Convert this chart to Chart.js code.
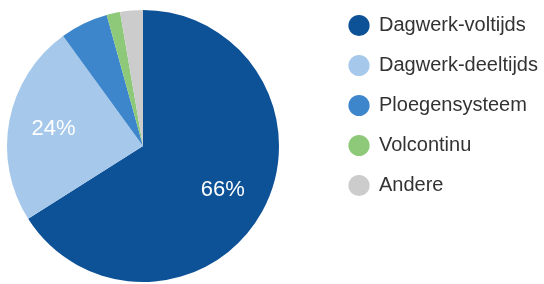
<!DOCTYPE html>
<html>
<head>
<meta charset="utf-8">
<script src="https://cdn.jsdelivr.net/npm/chart.js@4"></script>
<style>
  html, body { margin: 0; padding: 0; background: #fff; }
  #wrap { width: 544px; height: 284px; position: relative; }
</style>
</head>
<body>
<div id="wrap"><canvas id="pie"></canvas></div>
<script>
const categories = ["Dagwerk-voltijds", "Dagwerk-deeltijds", "Ploegensysteem", "Volcontinu", "Andere"];
const shares = [66, 24, 5.7, 1.6, 2.7];
const shownLabels = ["66%", "24%", "", "", ""];
const colors = ["#0d5196", "#a6c8ea", "#3d86cc", "#8ec97a", "#cccccc"];

// put the pie and legend where the reference has them
const placeBoxes = {
    id: "placeBoxes",
    afterLayout(chart) {
        chart.chartArea = { left: 7, top: 10, right: 279, bottom: 282, width: 272, height: 272 };
        const lg = chart.legend;
        lg.left = 329;
        lg.top = -4.5;
    }
};

// percent labels inside the big slices
const sliceLabels = {
    id: "sliceLabels",
    afterDatasetsDraw(chart) {
        const ctx = chart.ctx;
        const arcs = chart.getDatasetMeta(0).data;
        ctx.save();
        ctx.fillStyle = "#ffffff";
        ctx.font = "22px 'Liberation Sans', Arial, sans-serif";
        ctx.textAlign = "center";
        ctx.textBaseline = "middle";
        arcs.forEach((arc, i) => {
            if (!shownLabels[i]) return;
            const mid = (arc.startAngle + arc.endAngle) / 2;
            const r = arc.outerRadius * 0.67;
            ctx.fillText(shownLabels[i], arc.x + Math.cos(mid) * r, arc.y + Math.sin(mid) * r);
        });
        ctx.restore();
    }
};

const data = {
    labels: categories,
    datasets: [
        {
            data: shares,
            backgroundColor: colors,
            borderWidth: 0
        }
    ]
};

const config = {
    type: "pie",
    data: data,
    options: {
        responsive: true,
        maintainAspectRatio: false,
        animation: false,
        plugins: {
            tooltip: { enabled: false },
            legend: {
                position: "right",
                align: "start",
                labels: {
                    usePointStyle: true,
                    pointStyle: "circle",
                    boxWidth: 20,
                    boxHeight: 15,
                    padding: 20,
                    color: "#333333",
                    font: { family: "'Liberation Sans', Arial, sans-serif", size: 20 }
                }
            }
        }
    },
    plugins: [placeBoxes, sliceLabels]
};

const myChart = new Chart("pie", config);
</script>
</body>
</html>
